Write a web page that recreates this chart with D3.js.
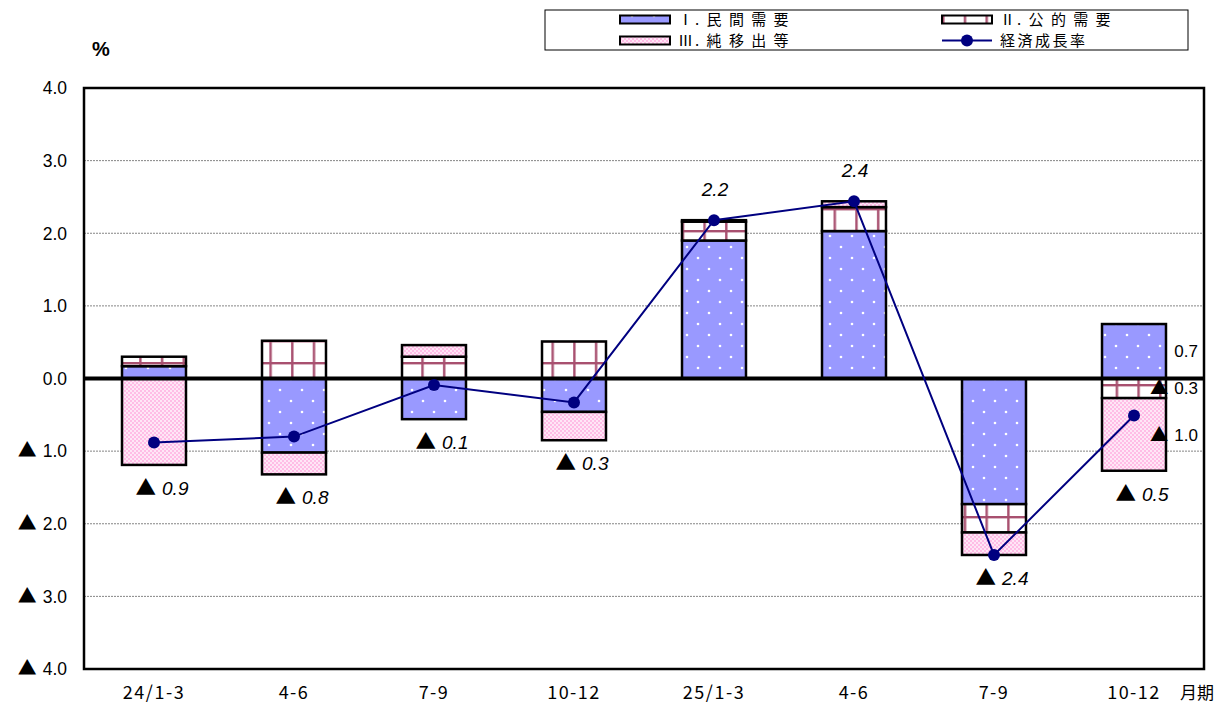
<!DOCTYPE html>
<html><head><meta charset="utf-8">
<script src="https://cdn.jsdelivr.net/npm/d3@7"></script>
<style>
body{margin:0;background:#fff;}
svg{display:block;font-family:"Liberation Sans",Arial,sans-serif;}
</style></head>
<body><svg id="c" width="1228" height="704"></svg>
<script>
const categories = ["24/1-3","4-6","7-9","10-12","25/1-3","4-6","7-9","10-12"];
const privateDemand = [0.17, -1.02, -0.56, -0.46, 1.90, 2.03, -1.73, 0.75];
const publicDemand  = [0.13, 0.52, 0.30, 0.51, 0.26, 0.33, -0.39, -0.27];
const netExports    = [-1.19, -0.30, 0.16, -0.39, 0.02, 0.08, -0.31, -1.00];
const growth        = [-0.88, -0.80, -0.09, -0.33, 2.18, 2.44, -2.43, -0.51];
const growthLabels  = ["▲ 0.9","▲ 0.8","▲ 0.1","▲ 0.3","2.2","2.4","▲ 2.4","▲ 0.5"];
const sideLabels    = ["0.7","▲ 0.3","▲ 1.0"];
const yTicks = [4,3,2,1,0,-1,-2,-3,-4];
const yTickLabels = ["4.0","3.0","2.0","1.0","0.0","▲ 1.0","▲ 2.0","▲ 3.0","▲ 4.0"];
const seriesNames = ["Ⅰ. 民 間 需 要","Ⅱ. 公 的 需 要","Ⅲ. 純 移 出 等","経済成長率"];

const CJK = "'Noto Sans CJK JP',sans-serif";
const svg = d3.select("#c");
const defs = svg.append("defs");
// private: blue with white dots
const pPriv = defs.append("pattern").attr("id","pPriv").attr("patternUnits","userSpaceOnUse").attr("width",22).attr("height",22);
pPriv.append("rect").attr("width",22).attr("height",22).attr("fill","#9999ff");
pPriv.append("circle").attr("cx",5).attr("cy",5).attr("r",1.3).attr("fill","#fff");
pPriv.append("circle").attr("cx",16).attr("cy",16).attr("r",1.3).attr("fill","#fff");
// public: white with maroon grid
const pPub = defs.append("pattern").attr("id","pPub").attr("patternUnits","userSpaceOnUse").attr("width",21.7).attr("height",22);
pPub.append("rect").attr("width",21.7).attr("height",22).attr("fill","#fff");
pPub.append("rect").attr("x",9).attr("y",0).attr("width",2.4).attr("height",22).attr("fill","#a8506f");
pPub.append("rect").attr("x",0).attr("y",10).attr("width",21.7).attr("height",2.4).attr("fill","#a8506f");
// net exports: pink checker
const pNet = defs.append("pattern").attr("id","pNet").attr("patternUnits","userSpaceOnUse").attr("width",4).attr("height",4);
pNet.append("rect").attr("width",4).attr("height",4).attr("fill","#ffbde6");
pNet.append("rect").attr("width",2).attr("height",2).attr("fill","#ffe6f6");
pNet.append("rect").attr("x",2).attr("y",2).attr("width",2).attr("height",2).attr("fill","#ffe6f6");

const L=84, R=1204, T=88, B=669;
const x = d3.scaleBand().domain(d3.range(categories.length)).range([L,R]).paddingInner(0.543).paddingOuter(0.2715);
const y = d3.scaleLinear().domain([-4,4]).range([B,T]);

// helper: text with CJK triangle glyph
function triText(sel, label, italic){
  const isNeg = label.startsWith("▲");
  if(isNeg){
    sel.append("tspan").attr("font-family",CJK).attr("font-style","normal").attr("font-size","1.08em").text("▲");
    sel.append("tspan").attr("dx",6).attr("font-style",italic?"italic":"normal").text(label.slice(1).trim());
  } else {
    sel.append("tspan").attr("font-style",italic?"italic":"normal").text(label);
  }
}

// gridlines
svg.append("g").selectAll("line").data(yTicks.filter(v=>v!==0 && Math.abs(v)!==4)).join("line")
  .attr("x1",L).attr("x2",R).attr("y1",d=>y(d)).attr("y2",d=>y(d))
  .attr("stroke","#666").attr("stroke-width",0.8).attr("stroke-dasharray","2,1");

// y tick labels
svg.append("g").selectAll("text").data(yTicks).join("text")
  .attr("x",67).attr("y",d=>y(d)).attr("dy","0.36em").attr("text-anchor","end")
  .attr("font-size",17.5).attr("fill","#000")
  .each(function(d,i){ triText(d3.select(this), yTickLabels[i], false); });

// stacked data
const rows = categories.map((c,i)=>({i, priv:privateDemand[i], pub:publicDemand[i], net:netExports[i]}));
const keys = ["priv","pub","net"];
const fills = {priv:"url(#pPriv)", pub:"url(#pPub)", net:"url(#pNet)"};
const stack = d3.stack().keys(keys).offset(d3.stackOffsetDiverging)(rows);

const bars = svg.append("g");
stack.forEach(s=>{
  bars.selectAll(null).data(s).join("rect")
    .attr("x",d=>x(d.data.i)).attr("width",x.bandwidth())
    .attr("y",d=>y(Math.max(d[0],d[1]))).attr("height",d=>Math.abs(y(d[0])-y(d[1])))
    .attr("fill",fills[s.key]).attr("stroke","#000").attr("stroke-width",2.5);
});

// zero line
svg.append("line").attr("x1",L).attr("x2",R).attr("y1",y(0)).attr("y2",y(0)).attr("stroke","#000").attr("stroke-width",4);

// frame
svg.append("rect").attr("x",L).attr("y",T).attr("width",R-L).attr("height",B-T)
  .attr("fill","none").attr("stroke","#000").attr("stroke-width",2.5);

// growth line
const cx = i=>x(i)+x.bandwidth()/2;
svg.append("path").datum(growth)
  .attr("d",d3.line().x((d,i)=>cx(i)).y(d=>y(d)))
  .attr("fill","none").attr("stroke","#000080").attr("stroke-width",2);
svg.append("g").selectAll("circle").data(growth).join("circle")
  .attr("cx",(d,i)=>cx(i)).attr("cy",d=>y(d)).attr("r",6).attr("fill","#000080");

// growth labels
const ext = rows.map(r=>{
  let pos=0,neg=0; keys.forEach(k=>{ if(r[k]>0) pos+=r[k]; else neg+=r[k]; });
  return {pos,neg};
});
svg.append("g").selectAll("text").data(growth).join("text")
  .attr("x",(d,i)=>cx(i)+(d<0?8:1))
  .attr("y",(d,i)=> d<0 ? y(ext[i].neg)+23 : y(ext[i].pos)-31)
  .attr("dy","0.36em").attr("text-anchor","middle")
  .attr("font-size",19).attr("fill","#000")
  .each(function(d,i){ triText(d3.select(this), growthLabels[i], true); });

// side labels for last bar
const last = categories.length-1;
const lastSeg = stack.map(s=>s[last]);
svg.append("g").selectAll("text").data(sideLabels).join("text")
  .attr("x",1198).attr("y",(d,i)=>y((lastSeg[i][0]+lastSeg[i][1])/2))
  .attr("dy","0.36em").attr("text-anchor","end").attr("font-size",17).attr("fill","#000")
  .each(function(d){ triText(d3.select(this), d, false); });

// x labels
svg.append("g").selectAll("text").data(categories).join("text")
  .attr("x",(d,i)=>cx(i)).attr("y",693).attr("dy","0.36em").attr("text-anchor","middle")
  .attr("font-family",CJK).attr("font-size",18).attr("letter-spacing",1.5).attr("fill","#000")
  .text(d=>d);
svg.append("text").attr("x",1197).attr("y",693).attr("dy","0.36em").attr("text-anchor","middle")
  .attr("font-family",CJK).attr("font-size",17).text("月期");

// % label
svg.append("text").attr("x",101).attr("y",49).attr("dy","0.36em").attr("text-anchor","middle")
  .attr("font-size",20).attr("font-weight","bold").text("%");

// legend
const lg = svg.append("g");
lg.append("rect").attr("x",545).attr("y",10).attr("width",643).attr("height",40).attr("fill","#fff").attr("stroke","#000").attr("stroke-width",1);
const legendItems = [
  {name:seriesNames[0], fill:"url(#pPriv)", sx:620, ry:19.5},
  {name:seriesNames[1], fill:"url(#pPub)", sx:942, ry:19.5},
  {name:seriesNames[2], fill:"url(#pNet)", sx:620, ry:40.5},
];
legendItems.forEach(it=>{
  lg.append("rect").attr("x",it.sx).attr("y",it.ry-4).attr("width",50).attr("height",8)
    .attr("fill",it.fill).attr("stroke","#000").attr("stroke-width",2);
  lg.append("text").attr("x",it.sx+58).attr("y",it.ry).attr("dy","0.36em")
    .attr("font-family",CJK).attr("font-size",15).attr("letter-spacing",2).text(it.name);
});
lg.append("line").attr("x1",942).attr("x2",992).attr("y1",40.5).attr("y2",40.5).attr("stroke","#000080").attr("stroke-width",2);
lg.append("circle").attr("cx",967).attr("cy",40.5).attr("r",6).attr("fill","#000080");
lg.append("text").attr("x",1000).attr("y",40.5).attr("dy","0.36em")
  .attr("font-family",CJK).attr("font-size",15).attr("letter-spacing",2.5).text(seriesNames[3]);
</script></body></html>
